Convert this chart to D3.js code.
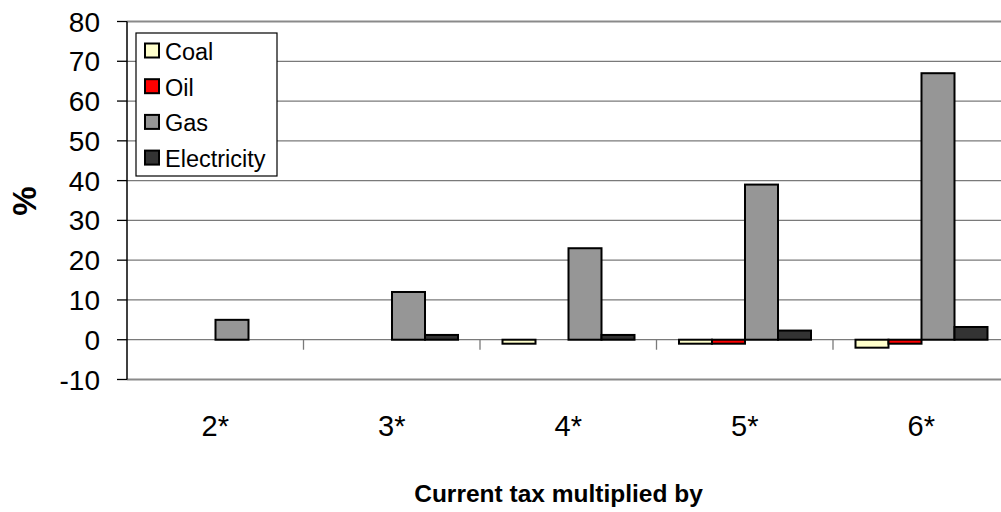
<!DOCTYPE html>
<html>
<head>
<meta charset="utf-8">
<script src="https://cdn.jsdelivr.net/npm/d3@7"></script>
<style>
  html, body { margin: 0; padding: 0; background: #fff; }
  svg { display: block; font-family: "Liberation Sans", Arial, sans-serif; }
</style>
</head>
<body>
<svg id="chart" width="1001" height="512"></svg>
<script>
const categories = ["2*", "3*", "4*", "5*", "6*"];
const seriesNames = ["Coal", "Oil", "Gas", "Electricity"];
const coal = [0, 0, -1, -1, -2];
const oil = [0, 0, 0, -1, -1];
const gas = [5, 12, 23, 39, 67];
const electricity = [0, 1.2, 1.2, 2.3, 3.2];
const yTicks = [-10, 0, 10, 20, 30, 40, 50, 60, 70, 80];
const colors = ["#FFFFCC", "#FF0000", "#969696", "#333333"];
const seriesValues = [coal, oil, gas, electricity];

const svg = d3.select("#chart");
const plotLeft = 127, step = 176.5;
const plotRight = plotLeft + step * categories.length;
const plotTop = 21.5, plotBottom = 379.5;

const x = d3.scaleBand().domain(categories).range([plotLeft, plotRight]).padding(0);
const inner = d3.scaleBand().domain(seriesNames)
  .range([22.5, x.bandwidth() - 22]).padding(0);
const y = d3.scaleLinear().domain([-10, 80]).range([plotBottom, plotTop]);

// gridlines
svg.append("g").selectAll("line").data(yTicks.filter(v => v !== 0 && v !== -10))
  .join("line")
  .attr("x1", plotLeft).attr("x2", plotRight)
  .attr("y1", d => y(d)).attr("y2", d => y(d))
  .attr("stroke", d => d === 80 ? "#8a8a8a" : "#7a7a7a")
  .attr("stroke-width", d => d === 80 ? 2 : 1.3);

// bottom border
svg.append("line").attr("x1", plotLeft).attr("x2", plotRight)
  .attr("y1", y(-10)).attr("y2", y(-10))
  .attr("stroke", "#8a8a8a").attr("stroke-width", 2);

// zero axis
svg.append("line").attr("x1", plotLeft).attr("x2", plotRight)
  .attr("y1", y(0)).attr("y2", y(0))
  .attr("stroke", "#7a7a7a").attr("stroke-width", 1.3);

// x ticks at band boundaries
const bounds = categories.map(c => x(c)).concat([plotRight]);
svg.append("g").selectAll("line").data(bounds.slice(1))
  .join("line")
  .attr("x1", d => d).attr("x2", d => d)
  .attr("y1", y(0)).attr("y2", y(0) + 10)
  .attr("stroke", "#7a7a7a").attr("stroke-width", 1.3);

// bars
const barData = [];
categories.forEach((c, i) => {
  seriesNames.forEach((s, j) => {
    const v = seriesValues[j][i];
    if (v !== 0) barData.push({ c, s, v, color: colors[j] });
  });
});
svg.append("g").selectAll("rect").data(barData).join("rect")
  .attr("x", d => x(d.c) + inner(d.s))
  .attr("width", inner.bandwidth())
  .attr("y", d => y(Math.max(0, d.v)))
  .attr("height", d => Math.abs(y(d.v) - y(0)))
  .attr("fill", d => d.color)
  .attr("stroke", "#000").attr("stroke-width", 2);

// y axis
svg.append("line").attr("x1", plotLeft).attr("x2", plotLeft)
  .attr("y1", plotTop).attr("y2", plotBottom)
  .attr("stroke", "#000").attr("stroke-width", 1.5);
svg.append("g").selectAll("line").data(yTicks).join("line")
  .attr("x1", plotLeft - 10).attr("x2", plotLeft)
  .attr("y1", d => y(d)).attr("y2", d => y(d))
  .attr("stroke", "#000").attr("stroke-width", 1.3);
svg.append("g").selectAll("text").data(yTicks).join("text")
  .attr("x", 100).attr("y", d => y(d) + 10)
  .attr("text-anchor", "end")
  .attr("font-size", 28)
  .attr("fill", "#000")
  .text(d => d);

// x labels
svg.append("g").selectAll("text").data(categories).join("text")
  .attr("x", d => x(d) + x.bandwidth() / 2)
  .attr("y", 436)
  .attr("text-anchor", "middle")
  .attr("font-size", 29)
  .attr("fill", "#000")
  .text(d => d);

// axis titles
svg.append("text")
  .attr("x", 558.5).attr("y", 502)
  .attr("text-anchor", "middle")
  .attr("font-size", 24.5).attr("font-weight", "bold")
  .text("Current tax multiplied by");
svg.append("text")
  .attr("transform", "translate(36,201) rotate(-90)")
  .attr("text-anchor", "middle")
  .attr("font-size", 33).attr("font-weight", "bold")
  .text("%");

// legend
const lg = svg.append("g");
lg.append("rect").attr("x", 136).attr("y", 33).attr("width", 141).attr("height", 143)
  .attr("fill", "#fff").attr("stroke", "#000").attr("stroke-width", 1.2);
const rows = lg.selectAll("g.item").data(seriesNames).join("g")
  .attr("class", "item")
  .attr("transform", (d, i) => `translate(0, ${i * 35.7})`);
rows.append("rect")
  .attr("x", 145).attr("y", 43.5).attr("width", 14).attr("height", 14)
  .attr("fill", (d, i) => colors[i])
  .attr("stroke", "#000").attr("stroke-width", 2);
rows.append("text")
  .attr("x", 165).attr("y", 60)
  .attr("font-size", 23.5)
  .attr("fill", "#000")
  .text(d => d);
</script>
</body>
</html>
